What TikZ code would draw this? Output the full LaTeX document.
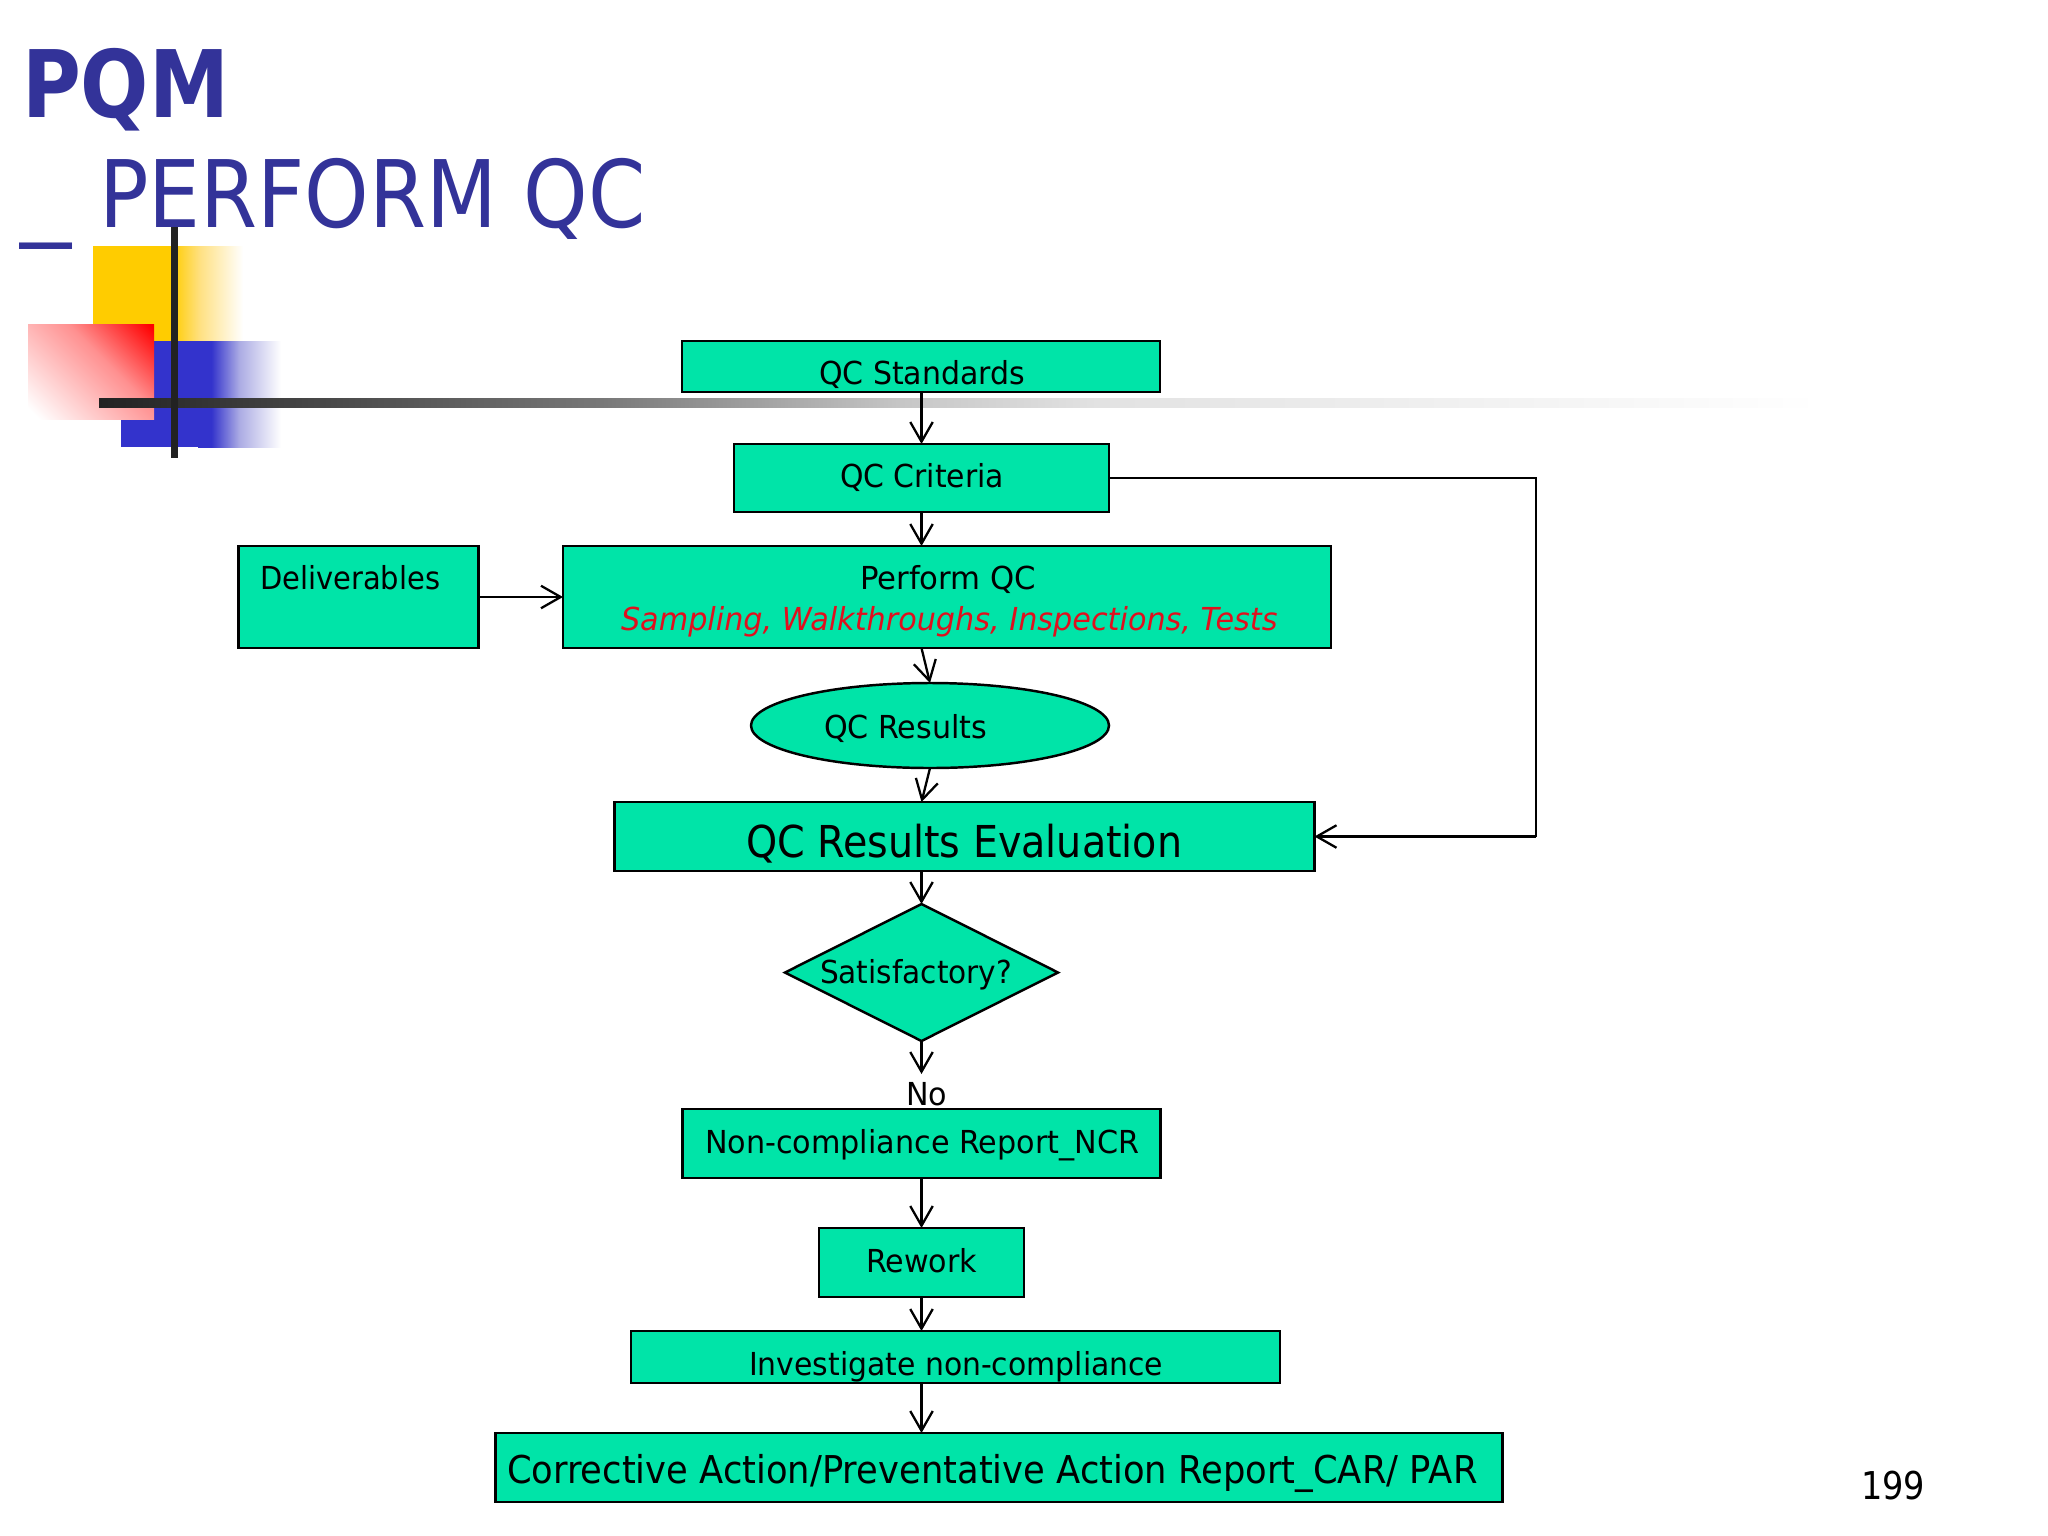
\documentclass[tikz,border=0pt]{standalone}
\usepackage{fontspec}
\usepackage{graphicx}
\setmainfont{DejaVu Sans}
\usetikzlibrary{arrows.meta,shapes.geometric}
\definecolor{flow}{HTML}{00E4A8}
\definecolor{titleblue}{HTML}{333399}
\definecolor{sqyellow}{HTML}{FFCC00}
\definecolor{yellowmid}{HTML}{FFE184}
\definecolor{sqblue}{HTML}{3333CC}
\definecolor{bluemid}{HTML}{ACACE4}
\definecolor{barblack}{HTML}{222222}
\definecolor{barA}{HTML}{777777}
\definecolor{barB}{HTML}{C6C6C6}
\definecolor{barC}{HTML}{E2E2E2}
\definecolor{redtext}{HTML}{E0101E}
\definecolor{redmid}{HTML}{FF9090}
\pgfdeclarehorizontalshading{yellowfade}{100bp}{color(0bp)=(sqyellow); color(25bp)=(sqyellow); color(45bp)=(yellowmid); color(75bp)=(white); color(100bp)=(white)}
\pgfdeclarehorizontalshading{bluefade}{100bp}{color(0bp)=(sqblue); color(25bp)=(sqblue); color(33bp)=(sqblue); color(50bp)=(bluemid); color(75bp)=(white); color(100bp)=(white)}
\pgfdeclarehorizontalshading{barfade}{100bp}{color(0bp)=(barblack); color(25bp)=(barblack); color(39.5bp)=(barA); color(48.3bp)=(barB); color(54bp)=(barC); color(75bp)=(white); color(100bp)=(white)}
\pgfdeclareverticalshading{redfade}{100bp}{color(0bp)=(white); color(18bp)=(white); color(58bp)=(redmid); color(84bp)=(red); color(100bp)=(red)}
% set text to an exact width in reference pixels, keeping its height
\newcommand\fitw[2]{\setbox0=\hbox{#2}\pgfmathsetmacro\fitsx{#1*0.28453/\wd0}\scalebox{\fitsx}[1]{\box0}}
\tikzset{
  x=0.01cm, y=-0.01cm,
  bx/.style 2 args={draw=black, line width=0.7pt, fill=flow, inner sep=0pt, outer sep=0pt,
    minimum width=#1*0.01cm, minimum height=#2*0.01cm},
  lbl/.style={inner sep=0pt, outer sep=0pt, anchor=base west, text=black,
    font=\fontsize{9}{11}\selectfont},
  lblbig/.style={lbl, font=\fontsize{12.5}{15}\selectfont},
  lblcar/.style={lbl, font=\fontsize{10.9}{13}\selectfont},
  ttl/.style={inner sep=0pt, outer sep=0pt, anchor=base west, text=titleblue,
    font=\fontsize{26.5}{30}\selectfont},
  conn/.style={draw=black, line width=0.65pt, -{Straight Barb[length=5.6pt,width=6.4pt,line width=0.65pt]}},
  plain/.style={draw=black, line width=0.65pt},
}
\begin{document}
\begin{tikzpicture}
\useasboundingbox (0,0) rectangle (2048,1536);
\fill[white] (0,0) rectangle (2048,1536);
% decoration
\fill[sqyellow] (93,246) rectangle (172.5,341);
\shade[shading=yellowfade] (172,246) rectangle (243,341);
\fill[sqblue] (121,341) rectangle (199,447);
\shade[shading=bluefade] (198,341) rectangle (281,447);
\shade[shading=redfade, shading angle=-45] (28,324) rectangle (154,419);
\shade[shading=barfade] (99,398) rectangle (1820,407);
\fill[barblack] (171,227) rectangle (178,458);
% title
\node[ttl] (t1) at (22,117) {\fitw{207}{\bfseries PQM}};
\node[ttl] (t2) at (20,227) {\fitw{51}{\_}\hspace{8pt}\fitw{546}{PERFORM QC}};
% boxes
\node[bx={478}{51}] (std) at (921,366.5) {};
\node[bx={375}{68}] (crit) at (921.5,478) {};
\node[bx={240}{102}] (deliv) at (358.5,597) {};
\node[bx={768}{102}] (perf) at (947,597) {};
\node[bx={358}{85}, ellipse] (res) at (930,725.5) {};
\node[bx={700}{69}] (eval) at (964.5,836.5) {};
\node[bx={273}{137}, diamond, aspect=2] (sat) at (921.5,972.5) {};
\node[bx={478}{69}] (ncr) at (921.5,1143.5) {};
\node[bx={205}{69}] (rew) at (921.5,1262.5) {};
\node[bx={649}{52}] (inv) at (955.5,1357) {};
\node[bx={1007}{69}] (car) at (999,1467.5) {};
% labels
\node[lbl] (lstd) at (819,384.5) {\fitw{206}{QC Standards}};
\node[lbl] (lcrit) at (840,487.5) {\fitw{164}{QC Criteria}};
\node[lbl] (ldel) at (260,589) {\fitw{180}{Deliverables}};
\node[lbl] (lperf) at (860,589) {\fitw{176}{Perform QC}};
\node[lbl, text=redtext] (lsamp) at (621,630) {\fitw{656}{\itshape Sampling, Walkthroughs, Inspections, Tests}};
\node[lbl] (lres) at (824,738) {\fitw{163}{QC Results}};
\node[lblbig] (leval) at (746,857) {\fitw{436}{QC Results Evaluation}};
\node[lbl] (lsat) at (820,983) {\fitw{192}{Satisfactory?}};
\node[lbl] (lno) at (906,1105) {\fitw{41}{No}};
\node[lbl] (lncr) at (705,1153) {\fitw{434}{Non-compliance Report\_NCR}};
\node[lbl] (lrew) at (866,1272) {\fitw{111}{Rework}};
\node[lbl] (linv) at (749,1375) {\fitw{414}{Investigate non-compliance}};
\node[lblcar] (lcar) at (507,1483) {\fitw{970}{Corrective Action/Preventative Action Report\_CAR/ PAR}};
\node[lblcar] (lpage) at (1861,1499) {\fitw{64}{199}};
% connectors
\coordinate (noend) at (921.5,1074);
\coordinate (side) at (1536,660);
\draw[conn] (std.south -| crit) -- (crit.north);
\draw[conn] (crit.south) -- (perf.north -| crit);
\draw[conn] (deliv.east) -- (perf.west);
\draw[conn] (perf.south -| crit) -- (res.north);
\draw[conn] (res.south) -- (eval.north -| crit);
\draw[conn] (eval.south -| crit) -- (sat.north);
\draw[conn] (sat.south) -- (noend);
\draw[conn] (ncr.south) -- (rew.north);
\draw[conn] (rew.south) -- (inv.north -| rew);
\draw[conn] (inv.south -| rew) -- (car.north -| rew);
\draw[plain] (crit.east) -- (crit.east -| side) -- (eval.east -| side);
\draw[conn] (eval.east -| side) -- (eval.east);
\end{tikzpicture}
\end{document}
